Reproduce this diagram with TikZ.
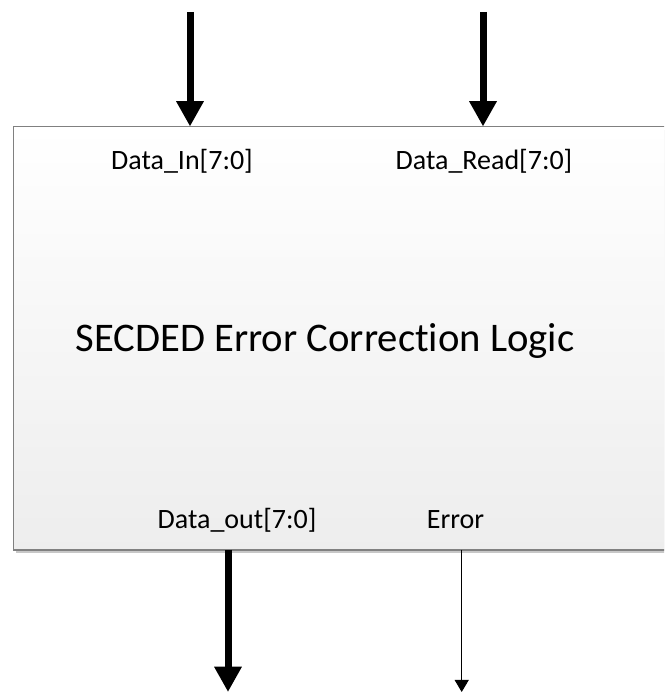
\documentclass[tikz,border=0pt]{standalone}
\usepackage{fontspec}
\setmainfont{Carlito}[Ligatures={NoCommon}]
\usetikzlibrary{positioning,arrows.meta,shadows}

\tikzset{
  block/.style={draw=black!50, line width=0.9pt, top color=white, bottom color=black!7,
    drop shadow={shadow xshift=2.25pt, shadow yshift=-2.25pt, fill=black!22, opacity=1},
    inner sep=0pt, outer sep=0pt},
  port/.style={font=\fontsize{21pt}{25pt}\selectfont, anchor=base, inner sep=0pt},
  title/.style={font=\fontsize{30.5pt}{37pt}\selectfont, anchor=base, inner sep=0pt},
  bus/.style={line width=5.25pt, -{Triangle[width=19.5pt,length=19pt]}},
  wire/.style={line width=0.75pt, -{Triangle[width=10.5pt,length=9pt]}}
}

\begin{document}
\begin{tikzpicture}[x=0.75pt,y=0.75pt]
   \useasboundingbox (0,0) rectangle (664,692);
   \clip (0,0) rectangle (664,692);
   % the logic block (runs past the right edge)
   \node[block, minimum width=500pt, minimum height=317.6pt] (ecc) at (346.75,353.75) {};
   \node[title] (ecc_name) at (325,340) {SECDED Error Correction Logic};
   % port labels
   \node[port] (din)   at (182,522)   {Data\_In[7:0]};
   \node[port] (dread) at (484,522)   {Data\_Read[7:0]};
   \node[port] (dout)  at (237,163)   {Data\_out[7:0]};
   \node[port] (err)   at (455.5,163) {Error};
   % free ends of the connectors
   \coordinate (din_src)   at (190,680);
   \coordinate (dread_src) at (483,680);
   \coordinate (dout_dst)  at (228,0);
   \coordinate (err_dst)   at (461.7,0);
   \draw[bus]  (din_src)   -- (din_src |- ecc.north);
   \draw[bus]  (dread_src) -- (dread_src |- ecc.north);
   \draw[bus]  (dout_dst |- ecc.south) -- (dout_dst);
   \draw[wire] (err_dst |- ecc.south)  -- (err_dst);
\end{tikzpicture}
\end{document}
